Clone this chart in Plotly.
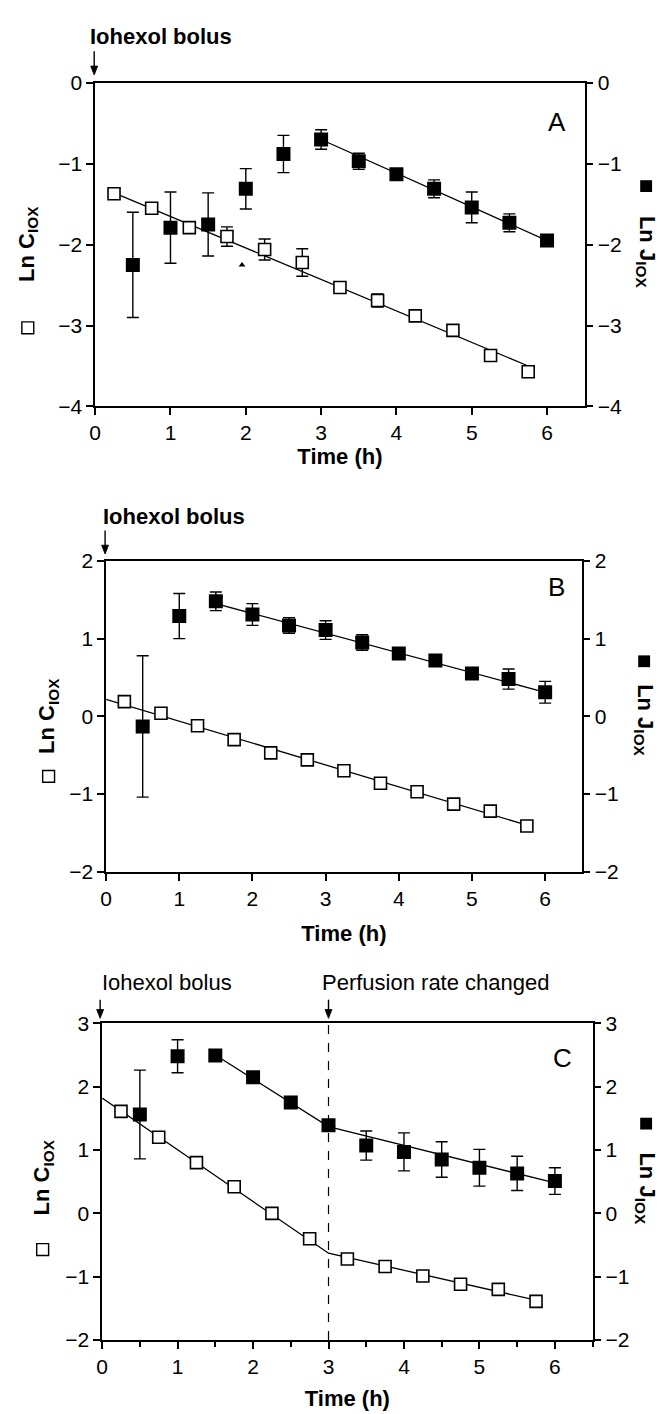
import plotly.graph_objects as go

# ---------------- DATA ----------------
t_c = [0.25, 0.75, 1.25, 1.75, 2.25, 2.75, 3.25, 3.75, 4.25, 4.75, 5.25, 5.75]
t_j = [0.5, 1.0, 1.5, 2.0, 2.5, 3.0, 3.5, 4.0, 4.5, 5.0, 5.5, 6.0]

# Panel A
a_c = [-1.37, -1.55, -1.79, -1.90, -2.06, -2.22, -2.53, -2.69, -2.88, -3.06, -3.37, -3.57]
a_c_err = [0, 0, 0, 0.12, 0.13, 0.17, 0.07, 0.08, 0, 0, 0.07, 0.03]
a_j = [-2.25, -1.79, -1.75, -1.31, -0.88, -0.70, -0.97, -1.13, -1.31, -1.54, -1.73, -1.95]
a_j_err = [0.65, 0.44, 0.39, 0.25, 0.23, 0.12, 0.10, 0.03, 0.11, 0.19, 0.11, 0]
a_cfit_x = [0.25, 5.75]
a_cfit_y = [-1.36, -3.50]
a_jfit_x = [3.0, 6.0]
a_jfit_y = [-0.70, -1.95]
a_mark_x = [1.95]
a_mark_y = [-2.25]

# Panel B
b_c = [0.19, 0.04, -0.12, -0.30, -0.47, -0.56, -0.70, -0.86, -0.97, -1.13, -1.22, -1.41]
b_c_err = [0, 0, 0, 0, 0, 0, 0, 0, 0, 0, 0, 0.04]
b_j = [-0.13, 1.29, 1.48, 1.31, 1.17, 1.11, 0.95, 0.81, 0.72, 0.55, 0.48, 0.31]
b_j_err = [0.91, 0.29, 0.12, 0.14, 0.10, 0.12, 0.10, 0, 0, 0, 0.13, 0.14]
b_cfit_x = [0.0, 5.75]
b_cfit_y = [0.22, -1.40]
b_jfit_x = [1.5, 6.0]
b_jfit_y = [1.45, 0.31]

# Panel C
c_c = [1.61, 1.20, 0.80, 0.42, 0.00, -0.40, -0.72, -0.84, -0.99, -1.12, -1.20, -1.39]
c_c_err = [0, 0, 0, 0, 0, 0, 0.04, 0.04, 0, 0, 0, 0.04]
c_j = [1.56, 2.48, 2.49, 2.15, 1.75, 1.39, 1.07, 0.97, 0.85, 0.72, 0.63, 0.51]
c_j_err = [0.70, 0.26, 0, 0, 0, 0, 0.23, 0.30, 0.28, 0.29, 0.27, 0.21]
c_cfit_x = [0.0, 3.0, 5.75]
c_cfit_y = [1.82, -0.63, -1.37]
c_jfit_x = [1.5, 3.0, 6.0]
c_jfit_y = [2.50, 1.37, 0.48]
c_change_t = 3.0

x_ticks = [0, 1, 2, 3, 4, 5, 6]
a_yticks = [-4, -3, -2, -1, 0]
b_yticks = [-2, -1, 0, 1, 2]
c_yticks = [-2, -1, 0, 1, 2, 3]

# ---------------- LAYOUT HELPERS ----------------
W, H = 661, 1414
FONT = "Liberation Sans, Arial, Helvetica, sans-serif"


def px(x):
    return x / W


def py(y):
    return 1 - y / H


panels = [
    dict(name="A", xa="x", ya="y", ya2="y2", xd=(90, 584), yd=(72, 401), yr=(-4, 0), yt=a_yticks,
         c=a_c, ce=a_c_err, j=a_j, je=a_j_err, cf=(a_cfit_x, a_cfit_y), jf=(a_jfit_x, a_jfit_y),
         minor=False, standoff=4),
    dict(name="B", xa="x2", ya="y3", ya2="y4", xd=(101, 581), yd=(558, 874), yr=(-2, 2), yt=b_yticks,
         c=b_c, ce=b_c_err, j=b_j, je=b_j_err, cf=(b_cfit_x, b_cfit_y), jf=(b_jfit_x, b_jfit_y),
         minor=False, standoff=17),
    dict(name="C", xa="x3", ya="y5", ya2="y6", xd=(97, 592), yd=(1028, 1350), yr=(-2, 3), yt=c_yticks,
         c=c_c, ce=c_c_err, j=c_j, je=c_j_err, cf=(c_cfit_x, c_cfit_y), jf=(c_jfit_x, c_jfit_y),
         minor=True, standoff=14),
]

fig = go.Figure()
line_style = dict(color="black", width=1.3)
err_style = dict(type="data", visible=True, color="black", thickness=1.4, width=6)

for p in panels:
    xa, ya, ya2 = p["xa"], p["ya"], p["ya2"]
    fig.add_trace(go.Scatter(x=p["cf"][0], y=p["cf"][1], mode="lines", line=line_style,
                             xaxis=xa, yaxis=ya, showlegend=False, hoverinfo="skip"))
    fig.add_trace(go.Scatter(x=p["jf"][0], y=p["jf"][1], mode="lines", line=line_style,
                             xaxis=xa, yaxis=ya2, showlegend=False, hoverinfo="skip"))
    fig.add_trace(go.Scatter(x=t_c, y=p["c"], mode="markers",
                             marker=dict(symbol="square", size=12, color="white",
                                         line=dict(color="black", width=1.6)),
                             error_y=dict(array=p["ce"], **err_style),
                             xaxis=xa, yaxis=ya, showlegend=False))
    fig.add_trace(go.Scatter(x=t_j, y=p["j"], mode="markers",
                             marker=dict(symbol="square", size=14, color="black",
                                         line=dict(color="black", width=0)),
                             error_y=dict(array=p["je"], **err_style),
                             xaxis=xa, yaxis=ya2, showlegend=False))

fig.add_trace(go.Scatter(x=a_mark_x, y=a_mark_y, mode="markers",
                         marker=dict(symbol="triangle-up", size=6, color="black"),
                         xaxis="x", yaxis="y", showlegend=False, hoverinfo="skip"))

tickfont = dict(family=FONT, size=21, color="black")
layout = dict(
    width=W, height=H, autosize=False,
    margin=dict(l=0, r=0, t=0, b=0),
    paper_bgcolor="white", plot_bgcolor="white",
    font=dict(family=FONT, color="black"),
    showlegend=False,
)

annotations = []
shapes = []

for i, p in enumerate(panels):
    xkey = "xaxis" if i == 0 else f"xaxis{i + 1}"
    ykey = "yaxis" if i == 0 else f"yaxis{2 * i + 1}"
    y2key = f"yaxis{2 * i + 2}"
    xdom = [px(p["xd"][0]), px(p["xd"][1])]
    ydom = [py(p["yd"][1]), py(p["yd"][0])]
    xax = dict(domain=xdom, anchor=p["ya"], range=[0, 6.5], tickvals=x_ticks,
               ticks="outside", ticklen=7, tickwidth=1.5, tickcolor="black",
               showline=True, linecolor="black", linewidth=1.5, mirror=True,
               showgrid=False, zeroline=False, tickfont=tickfont,
               title=dict(text="<b>Time (h)</b>", font=dict(family=FONT, size=22),
                          standoff=p["standoff"]))
    if p["minor"]:
        xax["minor"] = dict(dtick=0.5, tick0=0, ticks="outside", ticklen=5, tickwidth=1.5,
                            tickcolor="black", showgrid=False)
    layout[xkey] = xax
    common_y = dict(domain=ydom, anchor=p["xa"], range=list(p["yr"]), tickvals=p["yt"],
                    ticks="outside", ticklen=7, tickwidth=1.5, tickcolor="black",
                    showline=True, linecolor="black", linewidth=1.5,
                    showgrid=False, zeroline=False, tickfont=tickfont)
    layout[ykey] = dict(common_y, side="left")
    layout[y2key] = dict(common_y, side="right", overlaying=p["ya"])

    letter_pos = {"A": (556, 112), "B": (556, 584), "C": (562, 1063)}[p["name"]]
    annotations.append(dict(text=p["name"], x=px(letter_pos[0]), y=py(letter_pos[1]),
                            xref="paper", yref="paper", showarrow=False,
                            xanchor="center", yanchor="middle",
                            font=dict(family=FONT, size=26, color="black")))

# y-axis titles (left: Ln C_IOX with open square; right: Ln J_IOX with filled square)
left_titles = {"A": (22, 236, 321), "B": (43, 716, 777), "C": (37, 1185, 1258)}
right_titles = {"A": (646, 244, 177), "B": (644, 720, 660), "C": (646, 1196, 1130)}
for name, (lx, ly, sqy) in left_titles.items():
    annotations.append(dict(text="<b>Ln C<sub>IOX</sub></b>", x=px(lx), y=py(ly),
                            xref="paper", yref="paper", showarrow=False, textangle=-90,
                            xanchor="center", yanchor="middle",
                            font=dict(family=FONT, size=22, color="black")))
    shapes.append(dict(type="rect", xref="paper", yref="paper",
                       x0=px(lx - 6), x1=px(lx + 6), y0=py(sqy + 6), y1=py(sqy - 6),
                       line=dict(color="black", width=1.4), fillcolor="white"))
for name, (rx, ry, sqy) in right_titles.items():
    annotations.append(dict(text="<b>Ln J<sub>IOX</sub></b>", x=px(rx), y=py(ry),
                            xref="paper", yref="paper", showarrow=False, textangle=90,
                            xanchor="center", yanchor="middle",
                            font=dict(family=FONT, size=22, color="black")))
    shapes.append(dict(type="rect", xref="paper", yref="paper",
                       x0=px(rx - 6), x1=px(rx + 6), y0=py(sqy + 6), y1=py(sqy - 6),
                       line=dict(color="black", width=0), fillcolor="black"))


def arrow_shapes(xpix, tail_y, tip_y):
    head = 9
    return [
        dict(type="line", xref="paper", yref="paper", x0=px(xpix), x1=px(xpix),
             y0=py(tail_y), y1=py(tip_y - head + 1), line=dict(color="black", width=1.4)),
        dict(type="path", xref="paper", yref="paper",
             path=(f"M {px(xpix - 3.5)} {py(tip_y - head)} L {px(xpix + 3.5)} {py(tip_y - head)} "
                   f"L {px(xpix)} {py(tip_y)} Z"),
             line=dict(color="black", width=0.8), fillcolor="black"),
    ]


def label(text, x, y):
    return dict(text=text, x=px(x), y=py(y), xref="paper", yref="paper",
                xanchor="left", yanchor="middle", showarrow=False,
                font=dict(family=FONT, size=22, color="black"))


annotations += [
    label("<b>Iohexol bolus</b>", 83, 25),
    label("<b>Iohexol bolus</b>", 96, 513),
    label("Iohexol bolus", 95, 987),
    label("Perfusion rate changed", 317, 987),
]

x_c_pix = 97 + c_change_t * (592 - 97) / 6.5
shapes += arrow_shapes(89, 40, 64)
shapes += arrow_shapes(100, 527, 551)
shapes += arrow_shapes(95, 1004, 1023)
shapes += arrow_shapes(x_c_pix, 1004, 1023)

shapes.append(dict(type="line", xref="x3", yref="y5", x0=c_change_t, x1=c_change_t,
                   y0=-2, y1=3, line=dict(color="black", width=1.2, dash="dash")))

layout["annotations"] = annotations
layout["shapes"] = shapes
fig.update_layout(**layout)
fig.write_html("out.html")
